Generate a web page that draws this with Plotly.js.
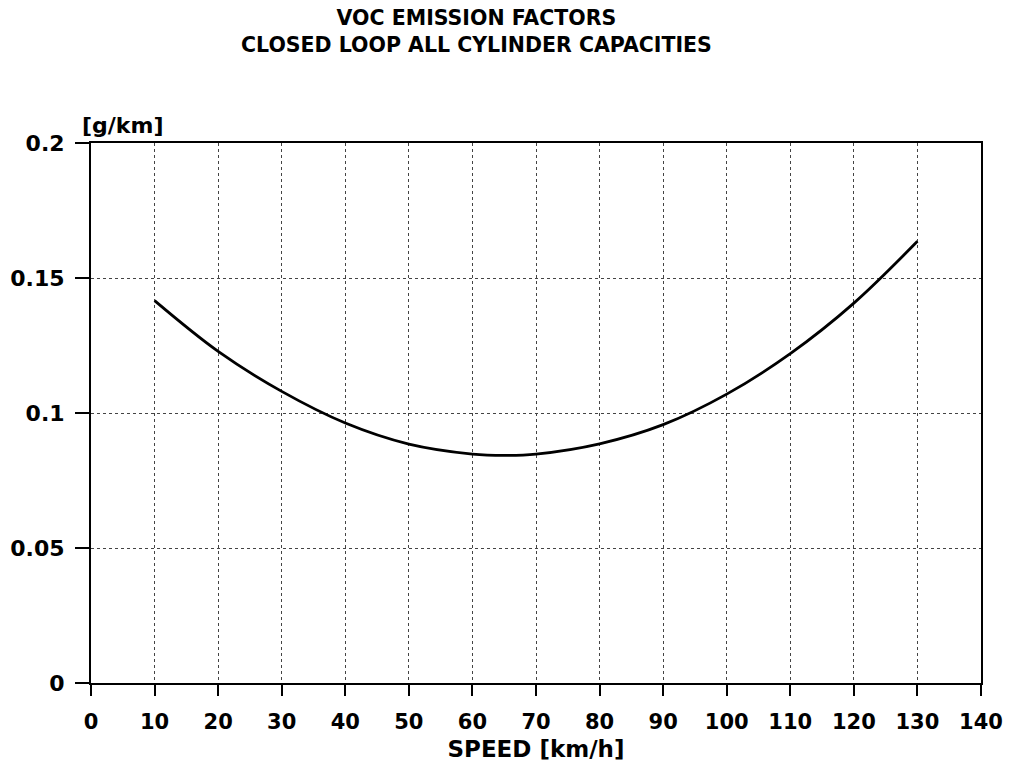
<!DOCTYPE html>
<html>
<head>
<meta charset="utf-8">
<script src="https://cdn.plot.ly/plotly-3.0.1.min.js"></script>
<style>html,body{margin:0;padding:0;background:#fff;}#chart{width:1009px;height:765px;}</style>
</head>
<body>
<div id="chart"></div>
<script>
// Data
const speed = [10, 20, 30, 40, 50, 60, 65, 70, 80, 90, 100, 110, 120, 130];
const vocFactor = [0.1416, 0.1228, 0.108, 0.0963, 0.0885, 0.0848, 0.0843, 0.0848, 0.0886, 0.0957, 0.107, 0.122, 0.1407, 0.1636];
const xTickVals = [0, 10, 20, 30, 40, 50, 60, 70, 80, 90, 100, 110, 120, 130, 140];
const xTickText = ["0", "10", "20", "30", "40", "50", "60", "70", "80", "90", "100", "110", "120", "130", "140"];
const yTickVals = [0, 0.05, 0.1, 0.15, 0.2];
const yTickText = ["0", "0.05", "0.1", "0.15", "0.2"];
const titleLines = ["VOC EMISSION FACTORS", "CLOSED LOOP ALL CYLINDER CAPACITIES"];
const xTitle = "SPEED [km/h]";
const yTitle = "[g/km]";

const FONT = "DejaVu Sans, Arial, sans-serif";

const trace = {
  x: speed,
  y: vocFactor,
  type: "scatter",
  mode: "lines",
  line: {color: "#000", width: 2.8, shape: "spline", smoothing: 1.0},
  hoverinfo: "x+y"
};

const layout = {
  width: 1009,
  height: 765,
  paper_bgcolor: "#fff",
  plot_bgcolor: "#fff",
  showlegend: false,
  margin: {l: 91, r: 28, t: 143, b: 82},
  font: {family: FONT, color: "#000"},
  xaxis: {
    range: [0, 140],
    tickvals: xTickVals,
    ticktext: xTickText,
    tickfont: {family: FONT, size: 21, color: "#000", weight: "bold"},
    ticks: "outside",
    ticklen: 11,
    tickwidth: 2,
    tickcolor: "#000",
    ticklabelstandoff: 8,
    showline: true,
    linecolor: "#000",
    linewidth: 2,
    mirror: true,
    showgrid: true,
    gridcolor: "#444",
    gridwidth: 1,
    griddash: "dot",
    zeroline: false,
    title: {text: "<b>" + xTitle + "</b>", font: {family: FONT, size: 23, color: "#000"}, standoff: 8}
  },
  yaxis: {
    range: [0, 0.2],
    tickvals: yTickVals,
    ticktext: yTickText,
    tickfont: {family: FONT, size: 22, color: "#000", weight: "bold"},
    ticks: "outside",
    ticklen: 14,
    tickwidth: 2,
    tickcolor: "#000",
    ticklabelstandoff: 6,
    showline: true,
    linecolor: "#000",
    linewidth: 2,
    mirror: true,
    showgrid: true,
    gridcolor: "#444",
    gridwidth: 1,
    griddash: "dot",
    zeroline: false
  },
  annotations: [{
    text: "<b>" + titleLines.join("<br>") + "</b>",
    xref: "paper", yref: "paper",
    x: 0.4326, y: 1.206,
    xanchor: "center", yanchor: "middle", align: "center",
    showarrow: false,
    font: {family: FONT, size: 20.5, color: "#000"}
  }, {
    text: "<b>" + yTitle + "</b>",
    xref: "paper", yref: "paper",
    x: -0.009, y: 1.0,
    xanchor: "left", yanchor: "bottom",
    xshift: -3,
    yshift: 3,
    showarrow: false,
    font: {family: FONT, size: 22, color: "#000"}
  }]
};

Plotly.newPlot("chart", [trace], layout, {displayModeBar: false, staticPlot: true});
</script>
</body>
</html>
